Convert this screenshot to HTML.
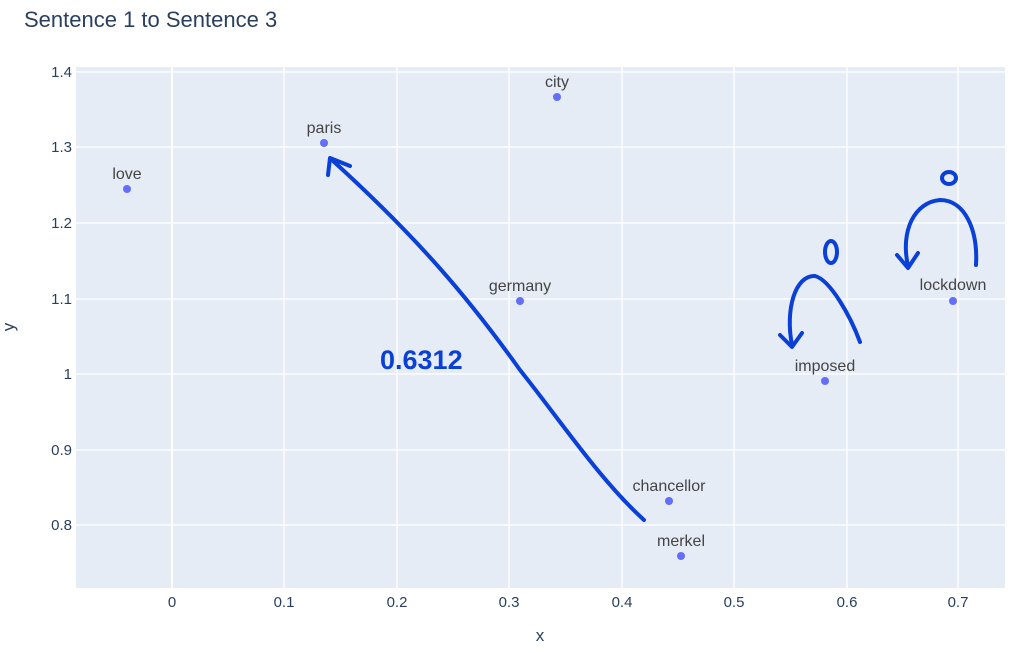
<!DOCTYPE html>
<html><head><meta charset="utf-8"><style>
body{margin:0;background:#fff;width:1024px;height:648px;overflow:hidden}
text{font-family:"Liberation Sans",sans-serif;fill:#2a3f5f}
</style></head><body>
<svg width="1024" height="648" viewBox="0 0 1024 648">
<rect x="0" y="0" width="1024" height="648" fill="#fff"/>
<text x="24" y="27" font-size="22">Sentence 1 to Sentence 3</text>
<rect x="76" y="67" width="929" height="521" fill="#e5ecf6"/>
<g stroke="#fff" stroke-width="1.3">
<line x1="284" y1="67" x2="284" y2="588"/><line x1="397" y1="67" x2="397" y2="588"/>
<line x1="509" y1="67" x2="509" y2="588"/><line x1="622" y1="67" x2="622" y2="588"/>
<line x1="734" y1="67" x2="734" y2="588"/><line x1="847" y1="67" x2="847" y2="588"/>
<line x1="958" y1="67" x2="958" y2="588"/>
<line x1="76" y1="72" x2="1005" y2="72"/><line x1="76" y1="147" x2="1005" y2="147"/>
<line x1="76" y1="223" x2="1005" y2="223"/><line x1="76" y1="299" x2="1005" y2="299"/>
<line x1="76" y1="374" x2="1005" y2="374"/><line x1="76" y1="450" x2="1005" y2="450"/>
<line x1="76" y1="525" x2="1005" y2="525"/>
</g>
<line x1="172" y1="67" x2="172" y2="588" stroke="#fff" stroke-width="2"/>
<g font-size="15" text-anchor="middle">
<text x="172" y="607">0</text><text x="284" y="607">0.1</text><text x="397" y="607">0.2</text>
<text x="509" y="607">0.3</text><text x="622" y="607">0.4</text><text x="734" y="607">0.5</text>
<text x="847" y="607">0.6</text><text x="958" y="607">0.7</text>
<text x="540" y="641" font-size="17">x</text>
</g>
<g font-size="15" text-anchor="end">
<text x="72" y="77">1.4</text><text x="72" y="152">1.3</text><text x="72" y="228">1.2</text>
<text x="72" y="304">1.1</text><text x="72" y="379">1</text><text x="72" y="455">0.9</text>
<text x="72" y="530">0.8</text>
</g>
<text x="14" y="327" font-size="17" text-anchor="middle" transform="rotate(-90 14 327)">y</text>
<g fill="#636efa">
<circle cx="127" cy="189" r="4"/><circle cx="324" cy="143" r="4"/><circle cx="557" cy="97" r="4"/>
<circle cx="520" cy="301" r="4"/><circle cx="953" cy="301" r="4"/><circle cx="825" cy="381" r="4"/>
<circle cx="669" cy="501" r="4"/><circle cx="681" cy="556" r="4"/>
</g>
<g font-size="16" text-anchor="middle" style="fill:#444">
<text x="127" y="179" style="fill:#444">love</text><text x="324" y="133" style="fill:#444">paris</text><text x="557" y="87" style="fill:#444">city</text>
<text x="520" y="291" style="fill:#444">germany</text><text x="953" y="290" style="fill:#444">lockdown</text><text x="825" y="371" style="fill:#444">imposed</text>
<text x="669" y="491" style="fill:#444">chancellor</text><text x="681" y="546" style="fill:#444">merkel</text>
</g>
<g stroke="#0a3fd8" stroke-width="4" fill="none" stroke-linecap="round" stroke-linejoin="round">
<path d="M644 520 C600 480 560 420 520 370 C470 300 420 240 332 160"/>
<path d="M328 175 L330 158 L350 166"/>
<path d="M860 342 C850 315 830 280 815 276 C795 275 785 310 792 345"/>
<path d="M780 335 L792 347 L802 333"/>
<path d="M976 265 C978 230 965 200 940 200 C915 202 900 230 908 266"/>
<path d="M897 255 L908 268 L918 253"/>
<ellipse cx="831" cy="252" rx="6" ry="11"/>
<ellipse cx="949" cy="178" rx="7" ry="6"/>
</g>
<text x="380" y="369" font-size="27" font-weight="bold" style="fill:#0a3fd8">0.6312</text>
</svg>
</body></html>
